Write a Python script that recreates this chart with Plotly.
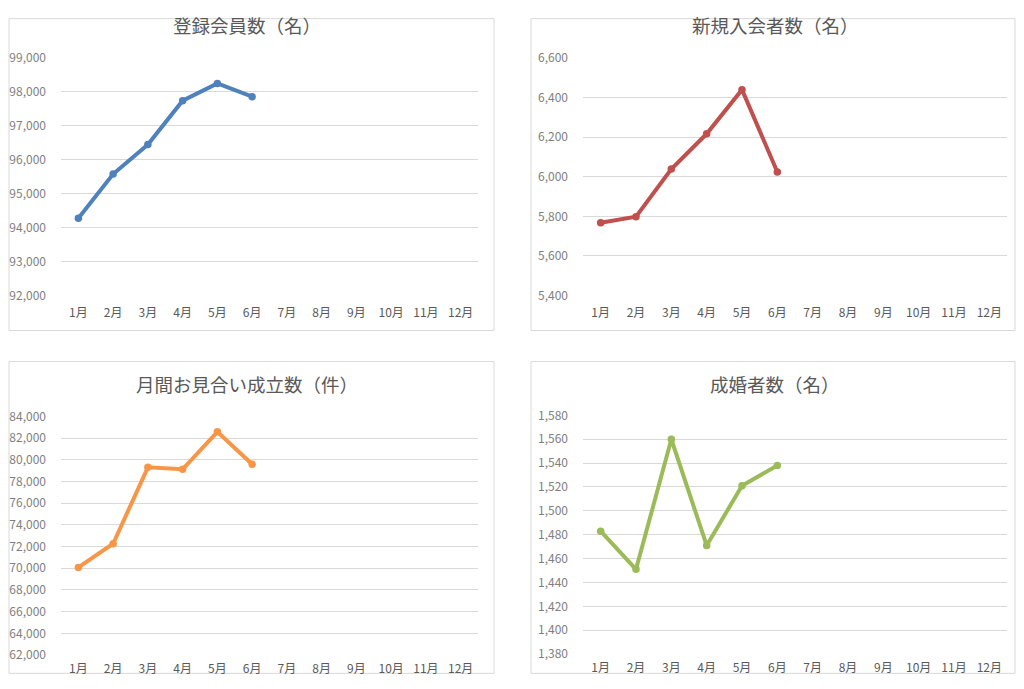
import plotly.graph_objects as go

# data
months = ["1月", "2月", "3月", "4月", "5月", "6月", "7月", "8月", "9月", "10月", "11月", "12月"]
months_done = months[:6]

members = [94280, 95580, 96450, 97740, 98250, 97860]
new_members = [5768, 5798, 6039, 6217, 6440, 6024]
meetings = [70080, 72260, 79300, 79120, 82580, 79580]
marriages = [1483, 1451, 1560, 1471, 1521, 1538]

titles = ["登録会員数（名）", "新規入会者数（名）", "月間お見合い成立数（件）", "成婚者数（名）"]
colors = ["#4F81BD", "#C0504D", "#F79646", "#9BBB59"]
yranges = [(92000, 99000, 1000), (5400, 6600, 200), (62000, 84000, 2000), (1380, 1580, 20)]

FONT = "Noto Sans CJK JP"

# the autosized figure sits at (8, 16) in the window, 1008 x 657 px
OX, OY, FW, FH = 8, 16, 1008, 657


def px(x):
    return min(max((x - OX) / FW, 0.001), 0.999)


def py(y):
    return min(max(1 - (y - OY) / FH, 0.001), 0.999)


# plot areas in window pixels: (left, right, top, bottom)
areas = [(61, 478, 56, 294), (583, 1007, 56, 294),
         (61, 478, 415, 654), (583, 1007, 414, 653)]
# panel boxes in window pixels
boxes = [(2, 494, 2, 329), (531, 1021, 2, 329),
         (2, 494, 360, 688), (531, 1021, 360, 688)]
title_pos = [(247, 23), (775, 23), (247, 383), (775, 383)]

fig = go.Figure()
series = [members, new_members, meetings, marriages]

for i, vals in enumerate(series):
    sfx = "" if i == 0 else str(i + 1)
    fig.add_trace(go.Scatter(
        x=months_done, y=vals, mode="lines+markers",
        line=dict(color=colors[i], width=4),
        marker=dict(color=colors[i], size=7.5),
        xaxis="x" + sfx, yaxis="y" + sfx, showlegend=False))

    l, r, t, b = areas[i]
    lo, hi, step = yranges[i]
    fig.layout["xaxis" + sfx] = dict(
        domain=[px(l), px(r)], anchor="y" + sfx, type="category",
        categoryorder="array", categoryarray=months, tickvals=months,
        range=[-0.5, 11.5], showgrid=False, zeroline=False,
        showline=False, ticks="", ticklabelstandoff=8 if i < 2 else 5,
        tickfont=dict(family=FONT, size=12, color="#595959"))
    fig.layout["yaxis" + sfx] = dict(
        domain=[py(b), py(t)], anchor="x" + sfx, range=[lo, hi],
        dtick=step, tick0=lo, tickformat=",d", showgrid=True,
        gridcolor="#D9D9D9", gridwidth=1, zeroline=False, showline=False,
        ticks="", ticklabelstandoff=14,
        tickfont=dict(family=FONT, size=12, color="#808080"))

    bl, br, bt, bb = boxes[i]
    fig.add_shape(type="rect", xref="paper", yref="paper",
                  x0=px(bl), x1=px(br), y0=py(bb), y1=py(bt),
                  line=dict(color="#D9D9D9", width=1), layer="below")
    tx, ty = title_pos[i]
    fig.add_annotation(text=titles[i], xref="paper", yref="paper",
                       x=px(tx), y=py(ty),
                       xanchor="center", yanchor="middle", showarrow=False,
                       font=dict(family=FONT, size=18.5, color="#595959"))

fig.update_layout(
    margin=dict(l=0, r=0, t=0, b=0),
    paper_bgcolor="white", plot_bgcolor="white",
    font=dict(family=FONT))

fig.write_html("out.html")
